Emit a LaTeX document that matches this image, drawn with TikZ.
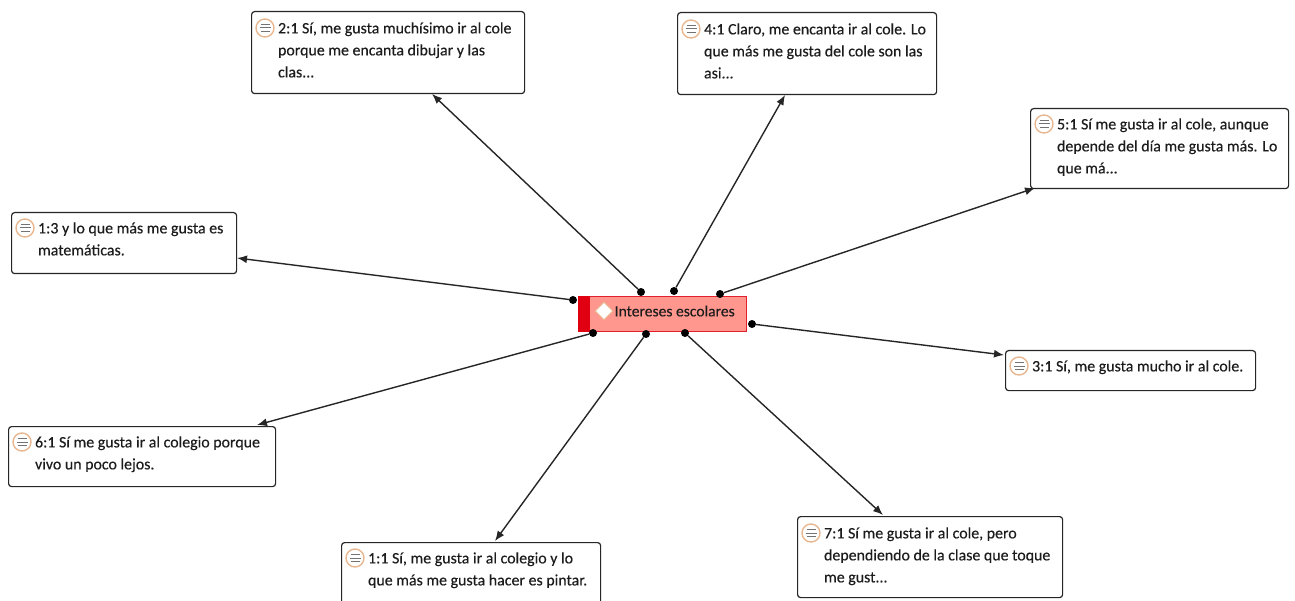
\documentclass[tikz,border=0pt]{standalone}
\usepackage{fontspec}
\setmainfont[FakeBold=0.25]{Carlito}
\usetikzlibrary{positioning,shapes.geometric,arrows.meta}

\definecolor{codefill}{HTML}{FF978E}
\definecolor{codeline}{HTML}{E2202C}
\definecolor{codeband}{HTML}{E00012}
\definecolor{iconline}{HTML}{E9B78F}
\definecolor{inktext}{HTML}{1C1C1C}

\tikzset{
	quotebox/.style={draw=black!85, fill=white, line width=1.2pt, rounded corners=3pt, anchor=north west, inner sep=0pt},
	quotetext/.style={right=6pt of #1.north east, anchor=north west, yshift=-1pt, inner sep=0pt, align=left, text=inktext, font=\fontsize{15.9}{22}\selectfont},
	noteicon/.style={circle, draw=iconline, fill=white, line width=1.4pt, minimum size=18pt, inner sep=0pt,
		path picture={
			\draw[black!55, line width=1pt]
				([shift={(-4.5pt,-3.5pt)}]path picture bounding box.center) -- ++(9pt,0pt)
				([shift={(-5.5pt,0pt)}]path picture bounding box.center) -- ++(11pt,0pt)
				([shift={(-4.5pt,3.5pt)}]path picture bounding box.center) -- ++(9pt,0pt);
		}},
	linkdot/.style={circle, fill=black, minimum size=8pt, inner sep=0pt},
	linkarrow/.style={-{Latex[length=10pt,width=8pt]}, line width=1.4pt, black!85}
}

\begin{document}
\begin{tikzpicture}[x=1pt, y=-1pt]

	\useasboundingbox (0,0) rectangle (1295,601);

	% Draw the quotation boxes
	\node[quotebox, minimum width=273pt, minimum height=82pt] (box21) at (251,11) {};
	\node[noteicon] (icon21) at (265,28) {};
	\node[quotetext=icon21] (text21) {2:1 Sí, me gusta muchísimo ir al cole\\porque me encanta dibujar y las\\clas...};

	\node[quotebox, minimum width=259pt, minimum height=82pt] (box41) at (677,12) {};
	\node[noteicon] (icon41) at (691,29) {};
	\node[quotetext=icon41] (text41) {4:1 Claro, me encanta ir al cole. Lo\\que más me gusta del cole son las\\asi...};

	\node[quotebox, minimum width=258pt, minimum height=80pt] (box51) at (1030,108) {};
	\node[noteicon] (icon51) at (1044,124) {};
	\node[quotetext=icon51] (text51) {5:1 Sí me gusta ir al cole, aunque\\depende del día me gusta más. Lo\\que má...};

	\node[quotebox, minimum width=225pt, minimum height=61pt] (box13) at (11,212) {};
	\node[noteicon] (icon13) at (25,228) {};
	\node[quotetext=icon13] (text13) {1:3 y lo que más me gusta es\\matemáticas.};

	\node[quotebox, minimum width=250pt, minimum height=40pt] (box31) at (1005,350) {};
	\node[noteicon] (icon31) at (1019,366) {};
	\node[quotetext=icon31] (text31) {3:1 Sí, me gusta mucho ir al cole.};

	\node[quotebox, minimum width=267pt, minimum height=60pt] (box61) at (8,426) {};
	\node[noteicon] (icon61) at (22,442) {};
	\node[quotetext=icon61] (text61) {6:1 Sí me gusta ir al colegio porque\\vivo un poco lejos.};

	\node[quotebox, minimum width=259pt, minimum height=62pt] (box11) at (341,542) {};
	\node[noteicon] (icon11) at (355,558) {};
	\node[quotetext=icon11] (text11) {1:1 Sí, me gusta ir al colegio y lo\\que más me gusta hacer es pintar.};

	\node[quotebox, minimum width=265pt, minimum height=81pt] (box71) at (797,516) {};
	\node[noteicon] (icon71) at (811,533) {};
	\node[quotetext=icon71] (text71) {7:1 Sí me gusta ir al cole, pero\\dependiendo de la clase que toque\\me gust...};

	% Draw the code in the middle
	\node[draw=codeline, fill=codefill, line width=1pt, minimum width=168pt, minimum height=35pt, inner sep=0pt, anchor=north west] (code) at (578,296) {};
	\fill[codeband] (code.north west) rectangle ([xshift=12pt]code.south west);
	\node[diamond, draw=iconline, fill=white, line width=1pt, minimum size=18pt, inner sep=0pt] (mark) at (604,311) {};
	\node[right=1pt of mark, inner sep=0pt, text=inktext, font=\fontsize{15.6}{18}\selectfont] (codetext) {Intereses escolares};

	% Draw the dots on the code
	\node[linkdot] (dot21) at (641,292) {};
	\node[linkdot] (dot41) at (674,291) {};
	\node[linkdot] (dot51) at (720,294) {};
	\node[linkdot] (dot13) at (573,300) {};
	\node[linkdot] (dot31) at (752,324) {};
	\node[linkdot] (dot61) at (593,333) {};
	\node[linkdot] (dot11) at (646,334) {};
	\node[linkdot] (dot71) at (685,333) {};

	% Free ends of the links on the box borders
	\coordinate (end21) at (432,94);
	\coordinate (end41) at (785,95);
	\coordinate (end51) at (1035,188);
	\coordinate (end13) at (237,258);
	\coordinate (end31) at (1004,355);
	\coordinate (end61) at (257,425);
	\coordinate (end11) at (495,541);
	\coordinate (end71) at (883,515);

	% Draw the links
	\draw[linkarrow] (dot21) -- (end21);
	\draw[linkarrow] (dot41) -- (end41);
	\draw[linkarrow] (dot51) -- (end51);
	\draw[linkarrow] (dot13) -- (end13);
	\draw[linkarrow] (dot31) -- (end31);
	\draw[linkarrow] (dot61) -- (end61);
	\draw[linkarrow] (dot11) -- (end11);
	\draw[linkarrow] (dot71) -- (end71);

\end{tikzpicture}
\end{document}
